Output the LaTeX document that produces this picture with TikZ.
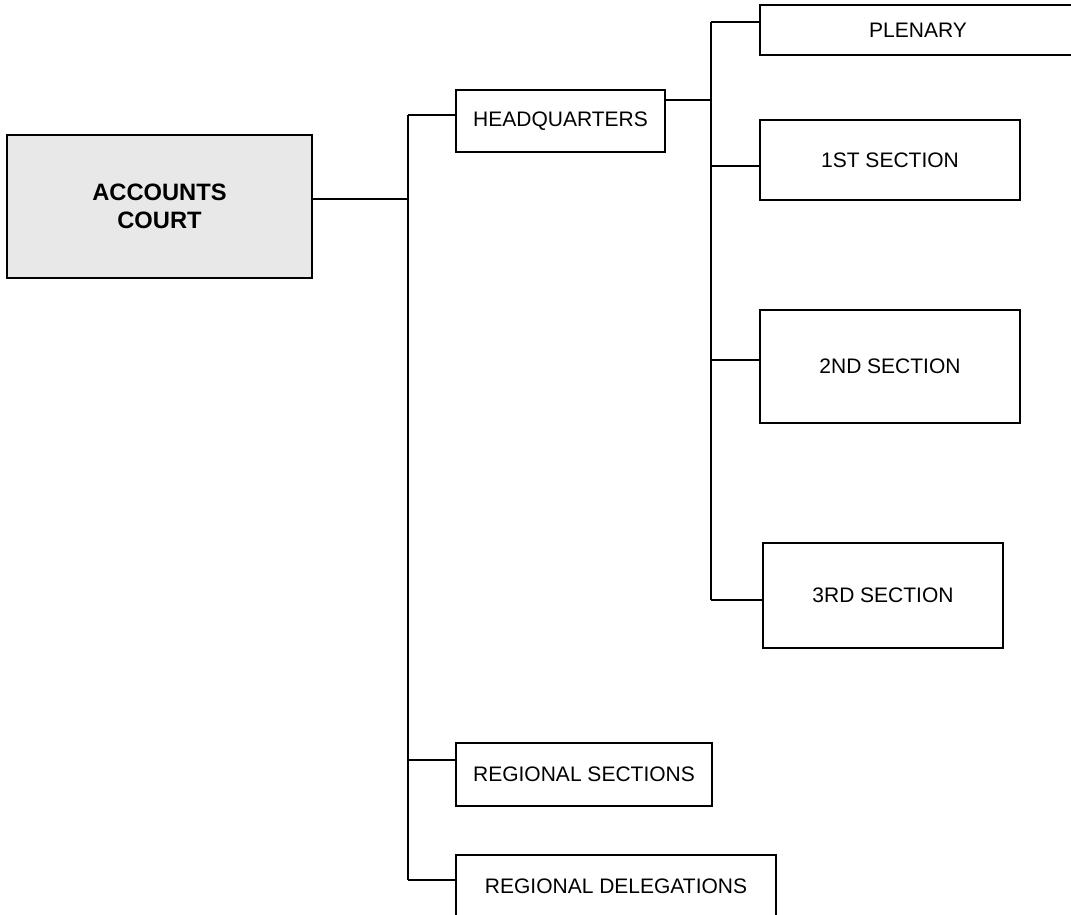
\documentclass[tikz,border=0pt]{standalone}
\usepackage{fontspec}
\setmainfont{Liberation Sans}
\usepackage{tikz}
\usetikzlibrary{calc}

\begin{document}
\begin{tikzpicture}[x=1pt,y=-1pt,line width=1.6pt,
    hop/.style={draw,inner sep=0pt,align=center,font=\fontsize{21}{25}\selectfont},
    goc/.style={hop,fill=gray!18,font=\bfseries\fontsize{23.7}{28}\selectfont}]
  \useasboundingbox (0,0) rectangle (1071,915);
  \clip (0,0) rectangle (1071,915);
  % o goc
  \node[goc,minimum width=305,minimum height=143] (court) at (159.5,206.5) {ACCOUNTS\\COURT};
  % cap 1
  \node[hop,minimum width=209,minimum height=62] (hq) at (560.5,121) {HEADQUARTERS};
  \node[hop,minimum width=256,minimum height=63] (rsec) at (584,774.5) {REGIONAL SECTIONS};
  \node[hop,minimum width=320,minimum height=62] (rdel) at (616,886) {REGIONAL DELEGATIONS};
  % cap 2
  \node[hop,minimum width=316,minimum height=50] (plen) at (918,30) {PLENARY};
  \node[hop,minimum width=260,minimum height=80] (sec1) at (890,160) {1ST SECTION};
  \node[hop,minimum width=260,minimum height=113] (sec2) at (890,366.5) {2ND SECTION};
  \node[hop,minimum width=240,minimum height=105] (sec3) at (883,595.5) {3RD SECTION};
  % diem noi
  \coordinate (t1) at (408,0);
  \coordinate (t2) at (711,0);
  \coordinate (c0) at ([yshift=7.5pt]court.east);
  \coordinate (h1) at ([yshift=6pt]hq.west);
  \coordinate (h2) at ([yshift=21pt]hq.east);
  \coordinate (r1) at ([yshift=14.5pt]rsec.west);
  \coordinate (r2) at ([yshift=6pt]rdel.west);
  \coordinate (p0) at ([yshift=8pt]plen.west);
  \coordinate (s1) at ([yshift=-6pt]sec1.west);
  \coordinate (s2) at ([yshift=6.5pt]sec2.west);
  \coordinate (s3) at ([yshift=-4.5pt]sec3.west);
  % truc doc
  \draw (c0) -- (c0 -| t1);
  \draw (t1 |- h1) -- (t1 |- r2);
  \foreach \n in {h1,r1,r2} \draw (t1 |- \n) -- (\n);
  \draw (h2) -- (h2 -| t2);
  \draw (t2 |- p0) -- (t2 |- s3);
  \foreach \n in {p0,s1,s2,s3} \draw (t2 |- \n) -- (\n);
\end{tikzpicture}
\end{document}
